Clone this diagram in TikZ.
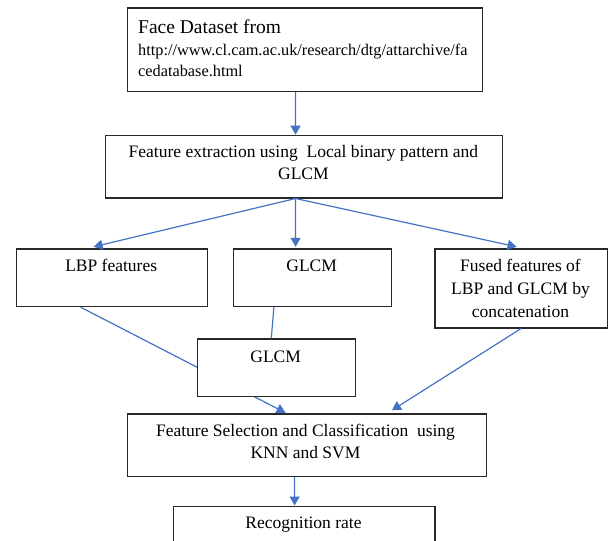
\documentclass[tikz,border=0pt]{standalone}
\usepackage{fontspec}
\setmainfont{Liberation Serif}
\usetikzlibrary{arrows.meta,backgrounds}
\definecolor{conn}{RGB}{68,114,196}
\definecolor{boxline}{RGB}{40,40,40}
\begin{document}
\begin{tikzpicture}[x=1pt,y=-1pt,
  box/.style={draw=boxline, line width=1.2pt, fill=white, rectangle, inner sep=0pt, anchor=north west},
  txt/.style={anchor=base, inner sep=0pt, align=center, font=\fontsize{17.5}{22.8}\selectfont},
  link/.style={draw=conn, line width=1.2pt},
  arr/.style={link, -{Triangle[length=9pt,width=10pt]}}]
\useasboundingbox (0,0) rectangle (608,541);
\clip (0,0) rectangle (608,541);
% boxes
\node[box, minimum width=354.8pt, minimum height=83.4pt] (top) at (126.8,7.3) {};
\node[box, minimum width=396.7pt, minimum height=62.6pt] (b2) at (105,134.7) {};
\node[box, minimum width=191pt, minimum height=57.7pt] (lbp) at (15.7,248.3) {};
\node[box, minimum width=158pt, minimum height=57.7pt] (glcm) at (232.7,248.3) {};
\node[box, minimum width=172.4pt, minimum height=79pt] (fused) at (434.3,248.3) {};
\node[box, minimum width=158pt, minimum height=57.7pt] (glcm2) at (196.7,338.3) {};
\node[box, minimum width=359.3pt, minimum height=62.7pt] (fs) at (126.7,413.3) {};
\node[box, minimum width=261.6pt, minimum height=60pt] (recog) at (172.7,506) {};
% texts (multi-line nodes: base = baseline of last line)
\node[anchor=base west, inner sep=0pt, font=\fontsize{19.5}{22}\selectfont] (t1) at (138,33) {Face Dataset from};
\node[anchor=base west, inner sep=0pt, align=left, font=\fontsize{16.3}{21}\selectfont] (t1u) at (138,76) {http://www.cl.cam.ac.uk/research/dtg/attarchive/fa\\cedatabase.html};
\node[txt, font=\fontsize{17.5}{22.5}\selectfont] (t2) at (303.4,179.5) {Feature extraction using\ \ Local binary pattern and\\GLCM};
\node[txt] (t3) at (111.2,271) {LBP features};
\node[txt] (t4) at (311.7,271) {GLCM};
\node[txt, font=\fontsize{17.5}{23.3}\selectfont] (t5) at (520.5,317.7) {Fused features of\\LBP and GLCM by\\concatenation};
\node[txt] (t6) at (275.7,362) {GLCM};
\node[txt, font=\fontsize{17.5}{22.5}\selectfont] (t7) at (305.5,458.5) {Feature Selection and Classification\ \ using\\KNN and SVM};
\node[txt] (t8) at (303.5,528.3) {Recognition rate};
% connectors
\draw[arr] ([xshift=-9.2pt]top.south) -- ([xshift=-8.4pt]b2.north);
\draw[arr] ([xshift=-8.4pt]b2.south) -- ([xshift=-18.2pt,yshift=1.5pt]lbp.north);
\draw[arr] ([xshift=-8.4pt]b2.south) -- ([xshift=-16.7pt,yshift=1.5pt]glcm.north);
\draw[arr] ([xshift=-8.4pt]b2.south) -- ([xshift=-4.5pt,yshift=1.5pt]fused.north);
\begin{scope}[on background layer]
\draw[arr] ([xshift=-31.2pt]lbp.south) -- ([xshift=-21.4pt,yshift=0.5pt]fs.north);
\end{scope}
\draw[link] ([xshift=-38.4pt]glcm.south) -- ([xshift=-5pt]glcm2.north);
\draw[arr] (fused.south) -- ([xshift=85pt,yshift=3pt]fs.north);
\draw[arr] ([xshift=-12.4pt]fs.south) -- ([xshift=-9.5pt,yshift=0.5pt]recog.north);
\end{tikzpicture}
\end{document}
